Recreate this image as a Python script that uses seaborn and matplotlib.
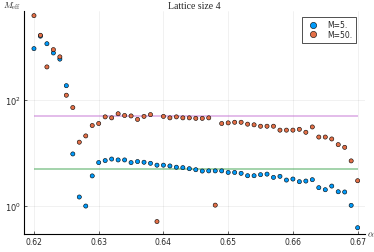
import numpy as np
import pandas as pd
import matplotlib
matplotlib.use("Agg")
import matplotlib.pyplot as plt
import seaborn as sns

# alpha grid 0.620 .. 0.670, step 0.001 (51 values)
alpha = [round(0.620 + 0.001 * i, 3) for i in range(51)]

# effective M for M=5
m5 = [930, 1600, 1150, 770, 590, 186, 9.6, 1.48, 1.0, 3.7,
      6.6, 7.2, 7.7, 7.4, 7.4, 6.6, 6.9, 6.7, 6.4, 5.9,
      5.9, 5.7, 5.4, 5.3, 5.06, 4.84, 4.57, 4.6, 4.6, 4.6,
      4.3, 4.3, 4.14, 3.73, 3.73, 3.9, 4.0, 3.47, 3.63, 3.09,
      3.23, 2.88, 2.96, 3.14, 2.22, 2.03, 2.38, 1.86, 1.84, 1.03,
      0.39]

# effective M for M=50
m50 = [3900, 1660, 420, 890, 650, 123, 72, 16, 21, 33,
       36, 48, 46, 55, 51, 50, 43, 49, 53, 0.51,
       49, 46, 48, 46, 46, 45, 45, 46, 1.04, 36,
       37, 38, 38, 35, 34, 32, 32, 32, 27, 27,
       27, 28, 24.6, 31, 20, 20, 18.4, 14.4, 12.8, 7.1,
       3.0]

labels = ["M=5.", "M=50."]
ref_levels = [5, 50]

df = pd.DataFrame({
    "alpha": alpha * 2,
    "meff": m5 + m50,
    "series": [labels[0]] * len(m5) + [labels[1]] * len(m50),
})

sns.set_style("white")
plt.rcParams["mathtext.fontset"] = "cm"

fig = plt.figure(figsize=(3.74, 2.53), dpi=100)
ax = fig.add_axes([0.064, 0.071, 0.912, 0.882])

# reference lines (drawn behind the points)
ax.hlines(ref_levels[1], 0.62, 0.67, color="#C371D2", alpha=0.6, lw=1.1, zorder=1)
ax.hlines(ref_levels[0], 0.62, 0.67, color="#3EA44E", alpha=0.6, lw=1.1, zorder=1)

sns.scatterplot(data=df, x="alpha", y="meff", hue="series",
                palette=["#009AFA", "#E36F47"], s=9, edgecolor="black",
                linewidth=0.4, ax=ax, zorder=3)

ax.set_yscale("log")
ax.set_xlim(0.61845, 0.67114)
ax.set_ylim(10 ** -0.528, 10 ** 3.68)
ax.set_xticks([0.62, 0.63, 0.64, 0.65, 0.66, 0.67])
ax.set_xticklabels(["0.62", "0.63", "0.64", "0.65", "0.66", "0.67"])
ax.set_yticks([1, 100])
ax.set_yticklabels([r"$\mathregular{10^0}$", r"$\mathregular{10^2}$"])
ax.yaxis.set_minor_locator(matplotlib.ticker.NullLocator())
ax.tick_params(axis="both", labelsize=5.5, length=2, width=0.5, pad=2, direction="in",
               left=True, bottom=True)
ax.tick_params(axis="y", labelsize=6)
ax.grid(True, color="black", alpha=0.08, lw=0.5)
for side in ["top", "right"]:
    ax.spines[side].set_visible(False)
for side in ["left", "bottom"]:
    ax.spines[side].set_linewidth(0.8)
    ax.spines[side].set_color("black")

ax.set_xlabel("")
ax.set_ylabel("")
ax.text(-0.01, 1.0, r"$M_{\mathrm{eff}}$", transform=ax.transAxes,
        ha="right", va="bottom", fontsize=6.5)
ax.text(1.005, 0.0, r"$\alpha$", transform=ax.transAxes,
        ha="left", va="center", fontsize=6.5)
ax.set_title("Lattice size 4", fontsize=7, family="Liberation Serif", pad=2)

leg = ax.legend(loc="upper right", bbox_to_anchor=(0.98, 0.985), fontsize=5.5,
                frameon=True, fancybox=False, markerscale=1.5,
                handletextpad=0.8, borderpad=0.5, labelspacing=0.05,
                borderaxespad=0.3)
leg.get_frame().set_edgecolor("black")
leg.get_frame().set_linewidth(0.6)

fig.savefig("out.png", dpi=100)
